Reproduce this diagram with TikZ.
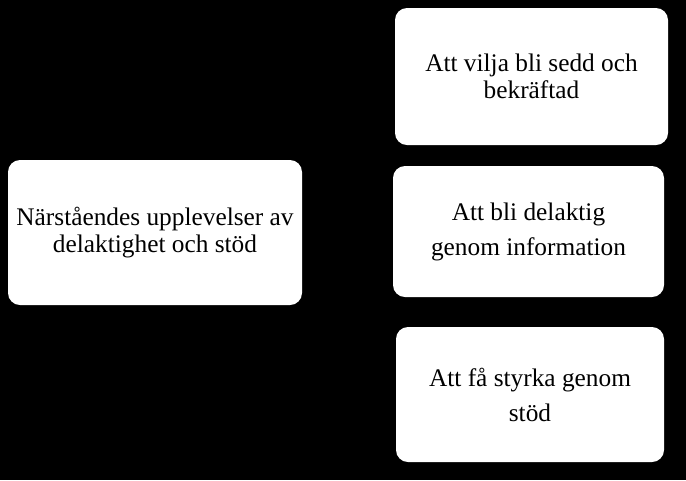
\documentclass[tikz,border=0pt]{standalone}
\usepackage{fontspec}
\setmainfont{Liberation Serif}
\newcommand{\boxfont}[1]{\fontsize{19}{#1}\selectfont\lineskiplimit=-20pt\relax}

\begin{document}
\begin{tikzpicture}[x=0.75pt, y=-0.75pt,
  box/.style={fill=white, rounded corners=9pt, align=center, inner sep=0pt},
  tight/.style={font=\boxfont{20.25pt}},
  loose/.style={font=\boxfont{26.25pt}}]

  \fill[black] (0,0) rectangle (686,480);

  \node[box, tight, minimum width=220.5pt, minimum height=108.75pt] (main) at (155, 232.5)
    {Närståendes upplevelser av\\delaktighet och stöd};

  \node[box, tight, minimum width=204.75pt, minimum height=102.75pt] (seen) at (531.5, 76.5)
    {Att vilja bli sedd och\\bekräftad};
  \node[box, loose, minimum width=203.25pt, minimum height=98.25pt] (info) at (528.5, 231.5)
    {Att bli delaktig\\genom information};
  \node[box, loose, minimum width=201pt, minimum height=101.25pt] (support) at (530, 394.5)
    {Att få styrka genom\\stöd};

\end{tikzpicture}
\end{document}
